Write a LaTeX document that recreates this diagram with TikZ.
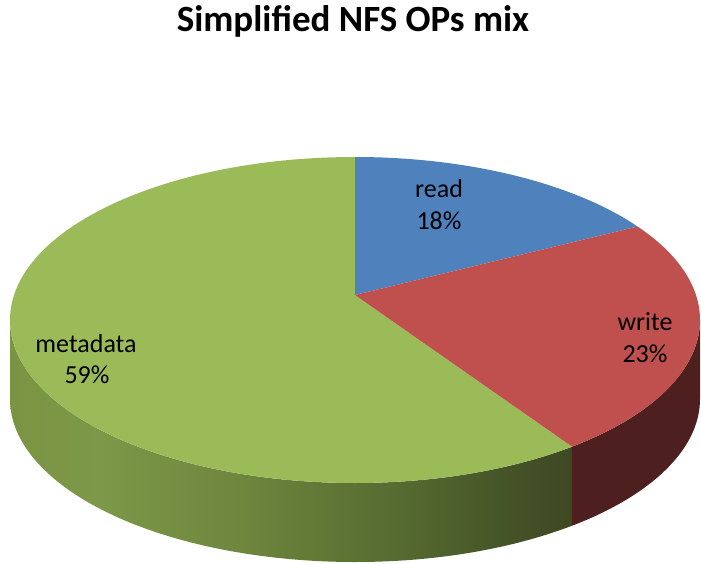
\documentclass[tikz,border=0pt]{standalone}
\usepackage{fontspec}
\setmainfont{Carlito}
\definecolor{readblue}{HTML}{4F81BD}
\definecolor{writered}{HTML}{C0504D}
\definecolor{metagreen}{HTML}{9BBB59}
\definecolor{writeside}{HTML}{4D1F1F}
\definecolor{msA}{HTML}{7A9444}
\definecolor{msB}{HTML}{7D9848}
\definecolor{msC}{HTML}{6D853D}
\definecolor{msD}{HTML}{556A30}
\definecolor{msE}{HTML}{445227}
\definecolor{msF}{HTML}{3E4922}
% side of the green slice: lighter at the left, dark toward the front edge
\pgfdeclarehorizontalshading{metaside}{100bp}{%
  color(0bp)=(msA);
  color(25bp)=(msA);
  color(33bp)=(msB);
  color(46bp)=(msC);
  color(60bp)=(msD);
  color(70bp)=(msE);
  color(75bp)=(msF);
  color(100bp)=(msF)}
\begin{document}
\begin{tikzpicture}[x=1pt,y=1pt,
  pielabel/.style={font=\fontsize{26}{31}\selectfont, anchor=base, inner sep=0pt},
  rim/.style={x radius=345, y radius=163}]
\useasboundingbox (0,0) rectangle (701,563);
% top face: centre (355,243); rim depth 79; apex of the slices (355,268)
\coordinate (apex) at (355,268);
\coordinate (left) at (10,243);
\coordinate (right) at (700,243);
\coordinate (top) at (355,406);
\coordinate (rw) at ({355+345*cos(35)},{243+163*sin(35)});
\coordinate (wm) at ({355+345*cos(-51)},{243+163*sin(-51)});
% side walls
\shade[shading=metaside] (left) arc[start angle=180, end angle=309, rim]
  -- ++(0,-79) arc[start angle=309, end angle=180, rim] -- cycle;
\fill[writeside] (wm) arc[start angle=309, end angle=360, rim]
  -- ++(0,-79) arc[start angle=360, end angle=309, rim] -- cycle;
% slices on the top face
\fill[metagreen] (apex) -- (top) arc[start angle=90, end angle=309, rim] -- cycle;
\fill[readblue] (apex) -- (rw) arc[start angle=35, end angle=90, rim] -- cycle;
\fill[writered] (apex) -- (wm) arc[start angle=-51, end angle=35, rim] -- cycle;
% labels
\node[pielabel] (readname) at (439,365) {read};
\node[pielabel] (readpct) at (439,333) {18\%};
\node[pielabel] (writename) at (645,233) {write};
\node[pielabel] (writepct) at (645,201) {23\%};
\node[pielabel] (metaname) at (86,211) {metadata};
\node[pielabel] (metapct) at (87,180) {59\%};
% title
\node[font=\fontsize{37}{44}\selectfont\bfseries, anchor=base, inner sep=0pt] (title) at (353,531) {Simplified NFS OPs mix};
\end{tikzpicture}
\end{document}
